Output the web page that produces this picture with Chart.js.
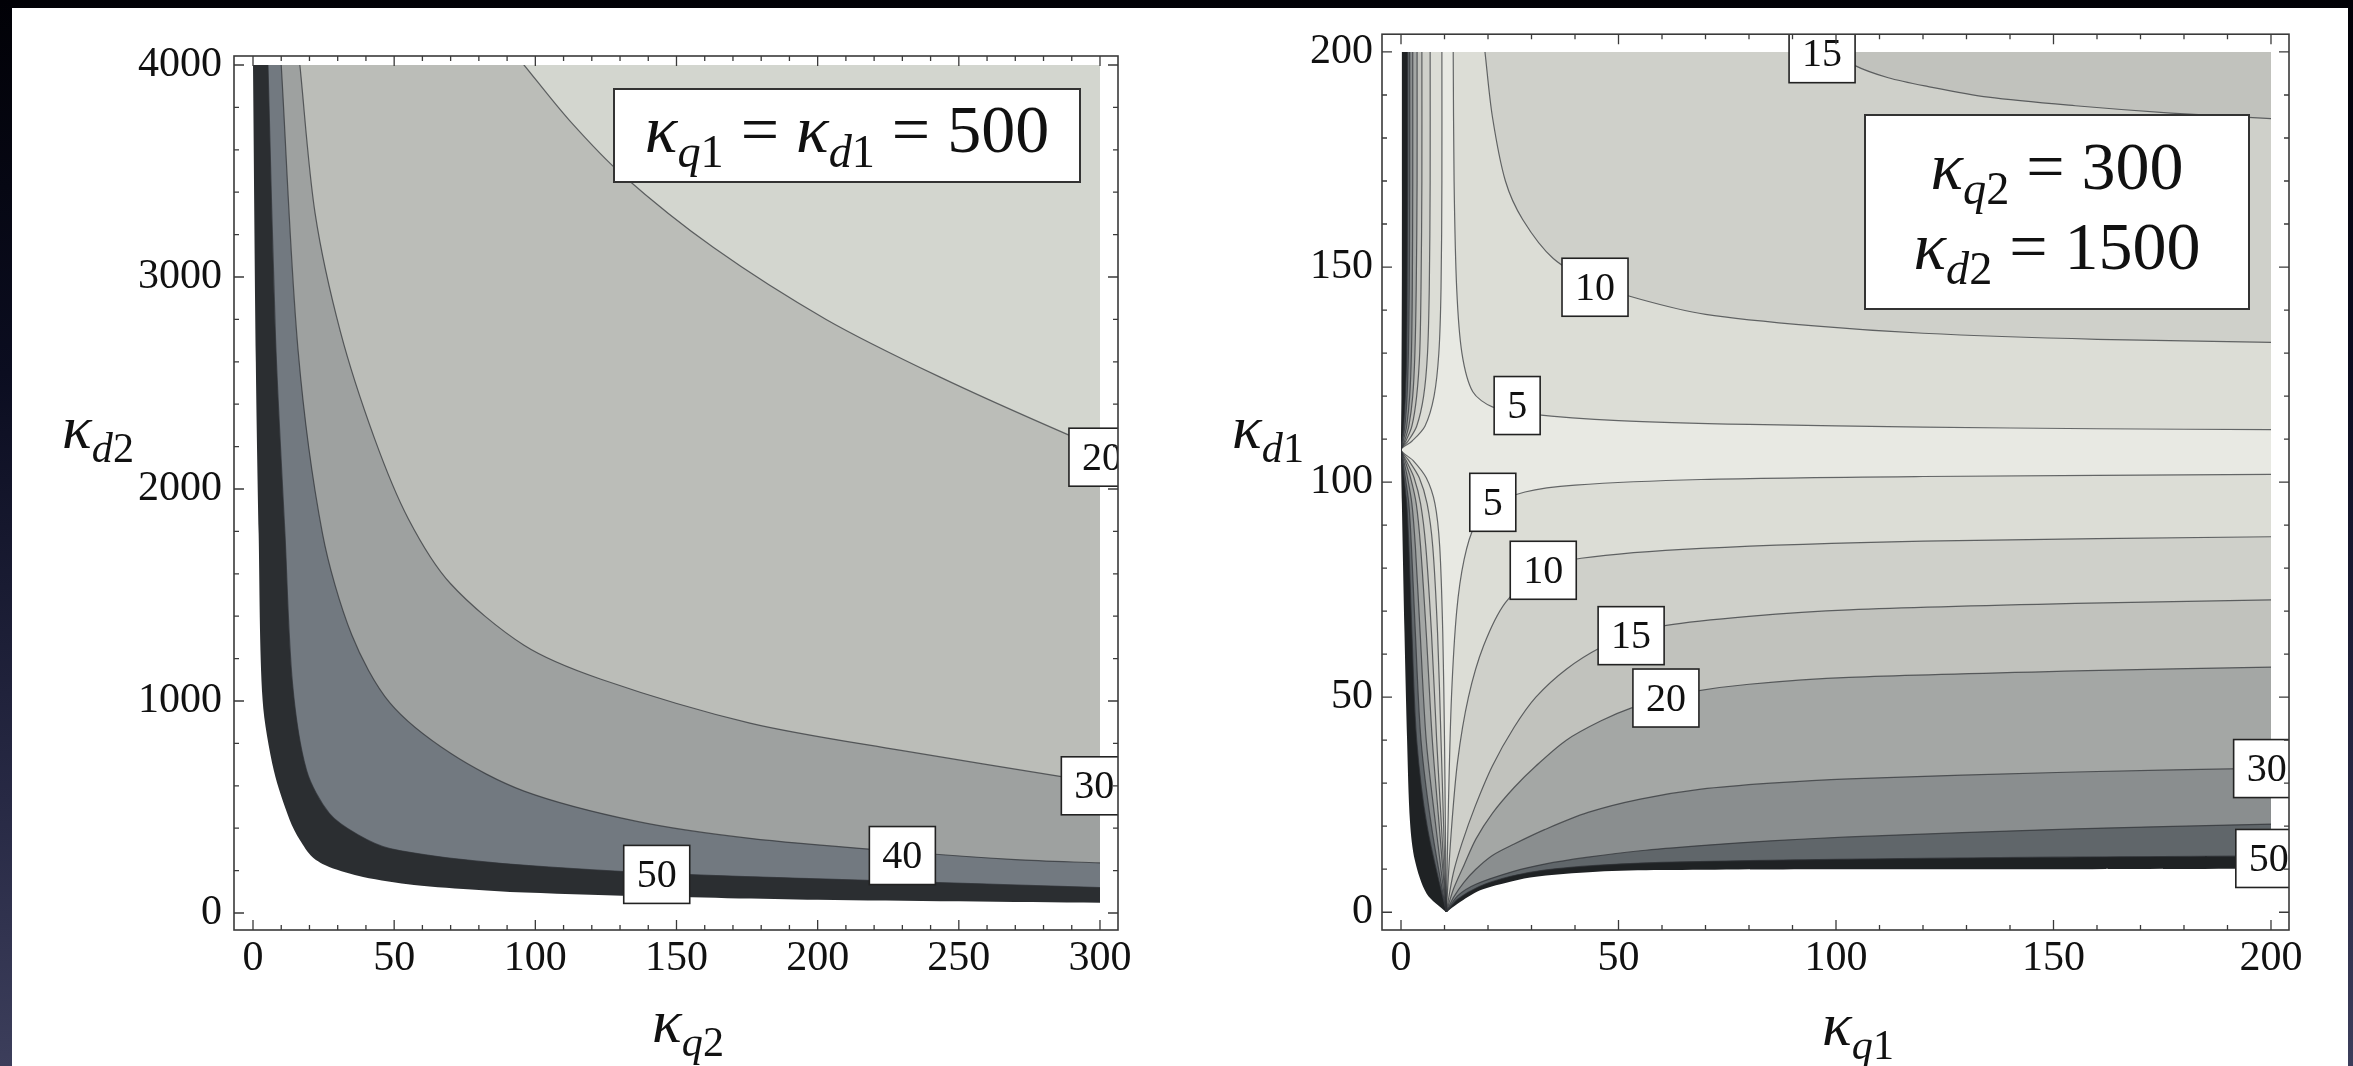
<!DOCTYPE html>
<html>
<head>
<meta charset="utf-8">
<script src="https://cdn.jsdelivr.net/npm/chart.js@4.4.0/dist/chart.umd.min.js"></script>
<style>
    html, body { margin: 0; padding: 0; }
    body {
        width: 2353px; height: 1066px; overflow: hidden; position: relative;
        background: linear-gradient(180deg, #010106 0%, #0b0d20 35%, #272944 75%, #3c3e5b 100%);
    }
    #panel { position: absolute; left: 12px; top: 8px; width: 2336px; height: 1058px; background: #fff; }
    canvas { position: absolute; top: 0; }
    #leftChart { left: 0; }
    #rightChart { left: 1180px; }
</style>
</head>
<body>
<div id="panel"></div>
<canvas id="leftChart" width="1180" height="1066"></canvas>
<canvas id="rightChart" width="1173" height="1066"></canvas>
<script>
// ============================================
// DATA - left panel (kappa_q1 = kappa_d1 = 500), points are [kappa_q2, kappa_d2]
// ============================================
const LEFT_X_LABELS = [0, 50, 100, 150, 200, 250, 300];
const LEFT_Y_LABELS = [0, 1000, 2000, 3000, 4000];

const L_C20 = [[96, 4000], [112, 3740], [131, 3480], [163, 3140], [203, 2800], [243, 2530], [288, 2260], [300, 2200]];
const L_C30 = [[16.6, 4000], [22, 3300], [31, 2740], [43, 2240], [55, 1860], [70, 1553], [96, 1263], [123, 1104], [176, 896], [229, 768], [288, 640], [300, 616]];
const L_C40 = [[10, 4000], [16, 2650], [24.6, 1791], [35, 1311], [48.5, 991], [70, 753], [96, 575], [136, 432], [176, 352], [229, 290], [270, 252], [300, 236]];
const L_C50 = [[5.3, 4000], [8, 2700], [11.3, 1791], [14, 1080], [19, 671], [27, 470], [37, 370], [48.5, 304], [83, 240], [136, 192], [203, 160], [300, 120]];
const L_EDGE = [[0, 4000], [1, 2600], [2, 1791], [3.4, 1005], [7.4, 671], [13, 439], [16.6, 344], [21, 264], [27, 217], [39, 170], [57, 132], [80, 108], [91, 99], [136, 80], [200, 62], [300, 48]];

// contour tags [x, y, text]
const L_TAGS = [[300.7, 2150, '20'], [298, 600, '30'], [230, 271, '40'], [143, 182, '50']];

// ============================================
// DATA - right panel (kappa_q2 = 300, kappa_d2 = 1500), points are [kappa_q1, kappa_d1]
// ============================================
const RIGHT_X_LABELS = [0, 50, 100, 150, 200];
const RIGHT_Y_LABELS = [0, 50, 100, 150, 200];

// upper right branch
const R_UR5 = [[12, 200], [12.2, 170], [12.8, 145], [14, 130], [16.5, 121], [21, 117.5], [30, 115.8], [50, 114.3], [80, 113.4], [120, 112.8], [160, 112.4], [200, 112.2]];
const R_UR10 = [[19.3, 200], [21, 185], [24, 170], [28, 161], [35, 152], [45, 146], [55, 142.5], [70, 139], [95, 136.3], [120, 134.6], [160, 133.2], [200, 132.5]];
const R_UR15 = [[98, 201], [104, 197], [112, 194], [121, 192], [135, 189.5], [155, 187.5], [177, 185.8], [200, 184.5]];

// lower right branch, all start at the cusp
const R_LR5 = [[10.4, 0], [10.9, 25], [11.6, 50], [12.8, 70], [14.5, 82], [17, 90], [21, 94.5], [28.5, 97.7], [40, 99.3], [69, 100.6], [120, 101.3], [200, 101.8]];
const R_LR10 = [[10.4, 0], [11.5, 18], [13, 35], [15.5, 50], [19, 62], [24, 72], [32, 79.5], [41.4, 82.3], [69, 84.6], [120, 86.3], [200, 87.3]];
const R_LR15 = [[10.4, 0], [12, 9], [14, 16], [17, 24.5], [21, 34], [26, 43], [31, 50], [38, 56.5], [46, 61.6], [53, 64.3], [61, 66.7], [80, 68.8], [103, 70.3], [155, 71.8], [200, 72.6]];
const R_LR20 = [[10.4, 0], [12.1, 5.5], [14.5, 11], [17.2, 17], [21, 23], [26, 29], [31, 34], [38, 40], [46, 44.5], [53, 47.5], [61, 49.8], [67, 51.3], [80, 53], [103, 54.6], [155, 56.1], [200, 57]];
const R_LR30 = [[10.4, 0], [12.1, 3.5], [14.5, 7], [17.2, 10], [21, 13.2], [25.9, 15.8], [33, 19.2], [43, 23.2], [55, 26.3], [69, 28.6], [85, 30], [103, 31], [155, 32.6], [200, 33.5]];
const R_LR40 = [[10.4, 0], [13, 3.8], [17.2, 6.5], [25.9, 9.5], [33, 11.2], [43, 12.8], [55, 14.3], [69, 15.5], [85, 16.6], [103, 17.5], [155, 19.4], [200, 20.5]];
const R_LR50 = [[10.4, 0], [13, 3], [18, 6], [25, 8.3], [33, 9.8], [45, 10.9], [60, 11.6], [100, 12.3], [150, 12.8], [200, 13.1]];
const R_LRCUT = [[10.4, 0], [13, 2], [18.2, 5.1], [24, 6.8], [29.7, 8.1], [45, 9.4], [60, 9.8], [100, 10], [150, 10], [200, 10.1]];

// left branch: from the top edge, pinched at the left axis, down to the cusp
const R_LEFT5 = [[9.4, 200], [9.4, 170], [9.2, 145], [8.7, 130], [7.6, 120], [5.5, 113], [2.5, 109.5], [0, 107.5], [2.8, 105], [5.8, 101], [7.8, 95], [8.9, 85], [9.6, 65], [10, 40], [10.2, 20], [10.4, 0]];
const R_LEFT10 = [[6.7, 200], [6.7, 170], [6.5, 145], [6.1, 130], [5.2, 120], [3.6, 113], [1.6, 109.5], [0, 107.5], [1.8, 105], [4.2, 101], [6, 95], [7.3, 85], [8.4, 65], [9.2, 40], [9.8, 20], [10.4, 0]];
const R_LEFT15 = [[4.8, 200], [4.8, 170], [4.6, 145], [4.3, 130], [3.6, 120], [2.5, 113], [1.1, 109.5], [0, 107.5], [1.2, 105], [3, 101], [4.5, 95], [5.7, 85], [7, 65], [8.2, 40], [9.3, 20], [10.4, 0]];
const R_LEFT20 = [[3.7, 200], [3.7, 170], [3.5, 145], [3.2, 130], [2.7, 120], [1.8, 113], [0.8, 109.5], [0, 107.5], [0.9, 105], [2.2, 101], [3.5, 95], [4.5, 85], [5.8, 65], [7.2, 40], [8.8, 20], [10.4, 0]];
const R_LEFT30 = [[2.7, 200], [2.7, 170], [2.6, 145], [2.4, 130], [2, 120], [1.3, 113], [0.5, 109.5], [0, 107.5], [0.6, 105], [1.5, 101], [2.5, 95], [3.3, 85], [4.4, 65], [5.8, 40], [8, 20], [10.4, 0]];
const R_LEFT40 = [[2, 200], [2, 170], [1.9, 145], [1.7, 130], [1.4, 120], [0.9, 113], [0.3, 109.5], [0, 107.5], [0.4, 105], [1, 101], [1.8, 95], [2.4, 85], [3.3, 65], [4.6, 40], [7, 20], [10.4, 0]];
const R_LEFT50 = [[1.5, 200], [1.5, 170], [1.4, 145], [1.3, 130], [1, 120], [0.6, 113], [0.2, 109.5], [0, 107.5], [0.3, 105], [0.7, 101], [1.3, 95], [1.8, 85], [2.5, 65], [3.6, 40], [6, 20], [10.4, 0]];
const R_LEFTCUT = [[0.2, 200], [0.2, 150], [0.1, 120], [0, 107.5], [0.2, 95], [0.8, 65], [1.4, 40], [2.07, 21], [3.2, 12], [5.9, 4.3], [10.4, 0]];

const R_TAGS = [[96.8, 199.6, '15'], [44.6, 145.3, '10'], [26.7, 117.8, '5'], [21.1, 95.3, '5'],
                [32.7, 79.5, '10'], [52.9, 64.3, '15'], [60.9, 49.8, '20'], [199, 33.4, '30'], [199.5, 12.5, '50']];

// ============================================
// STYLE
// ============================================
const SERIF = '"Liberation Serif", "Times New Roman", serif';
const TENSION = 0.3;
const LINE_COLOR = 'rgba(45, 48, 52, 0.7)';
const LEFT_SHADES = ['#d3d6cf', '#bbbdb8', '#9ea1a0', '#727980', '#2b2e31', '#ffffff'];
const RIGHT_SHADES = ['#e8e9e3', '#dcddd6', '#cfd0ca', '#c1c2bd', '#a4a7a5', '#8a8e8f', '#60666a', '#1f2224', '#ffffff'];

// ============================================
// GEOMETRY HELPERS (polygons handed to the filler as 'shape')
// ============================================
function extend(curve) {
    const n = curve.length;
    const [x0, y0] = curve[0], [x1, y1] = curve[1];
    const [xa, ya] = curve[n - 1], [xb, yb] = curve[n - 2];
    return [[2 * x0 - x1, 2 * y0 - y1], ...curve, [2 * xa - xb, 2 * ya - yb]];
}

function toXY(points) {
    return points.map(([x, y]) => ({x, y}));
}

function region(points, color) {
    return {
        data: toXY(points), showLine: true, fill: 'shape', backgroundColor: color,
        borderWidth: 0, pointRadius: 0, tension: TENSION
    };
}

function contour(curve) {
    return {
        data: toXY(extend(curve)), showLine: true, fill: false, borderColor: LINE_COLOR,
        borderWidth: 1.2, pointRadius: 0, tension: TENSION
    };
}

// below-left of a curve that runs from the top edge to the right edge
function belowLeft(curve, b) {
    const e = extend(curve);
    const first = e[0], last = e[e.length - 1];
    return [[b.xlo, first[1]], ...e, [last[0], b.ylo], [b.xlo, b.ylo]];
}

// above-right of a curve from the top edge to the right edge
function aboveRight(curve, b) {
    const e = extend(curve);
    const first = e[0], last = e[e.length - 1];
    return [...e, [b.xhi, last[1]], [b.xhi, b.yhi], [first[0], b.yhi]];
}

// below-right of a curve from the bottom edge to the right edge
function belowRight(curve, b) {
    const e = extend(curve);
    const first = e[0], last = e[e.length - 1];
    return [[first[0], b.ylo], ...e, [b.xhi, last[1]], [b.xhi, b.ylo]];
}

// left of a curve from the top edge to the bottom edge
function leftOf(curve, b) {
    const e = extend(curve);
    const first = e[0], last = e[e.length - 1];
    return [[b.xlo, b.yhi], [first[0], b.yhi], ...e, [last[0], b.ylo], [b.xlo, b.ylo]];
}

function withOrder(list) {
    return list.map((ds, i) => Object.assign(ds, {order: list.length - i}));
}

// ============================================
// DRAWING HELPERS
// ============================================
function drawRuns(ctx, runs, cx, baseline, size) {
    const fontFor = (st) => {
        const s = st[0] === 's' ? size * 0.68 : size;
        return `${st.endsWith('i') ? 'italic ' : ''}${s}px ${SERIF}`;
    };
    let total = 0;
    const widths = runs.map(([t, st]) => {
        ctx.font = fontFor(st);
        const w = ctx.measureText(t).width;
        total += w;
        return w;
    });
    let x = cx - total / 2;
    ctx.textAlign = 'left';
    ctx.textBaseline = 'alphabetic';
    ctx.fillStyle = '#111';
    runs.forEach(([t, st], i) => {
        ctx.font = fontFor(st);
        ctx.fillText(t, x, baseline + (st[0] === 's' ? size * 0.22 : 0));
        x += widths[i];
    });
}

function drawTag(ctx, px, py, text) {
    const w = text.length > 1 ? 66 : 46, h = 58;
    ctx.fillStyle = '#fff';
    ctx.fillRect(px - w / 2, py - h / 2, w, h);
    ctx.strokeStyle = '#222';
    ctx.lineWidth = 1.6;
    ctx.strokeRect(px - w / 2, py - h / 2, w, h);
    ctx.fillStyle = '#111';
    ctx.font = `40px ${SERIF}`;
    ctx.textAlign = 'center';
    ctx.textBaseline = 'middle';
    ctx.fillText(text, px, py + 2);
}

function drawFrame(chart, opts) {
    const {ctx, chartArea: a} = chart;
    const xs = chart.scales.x, ys = chart.scales.y;
    ctx.save();
    ctx.strokeStyle = '#3a3a3a';
    ctx.lineWidth = 1.6;
    ctx.strokeRect(a.left, a.top, a.right - a.left, a.bottom - a.top);
    ctx.lineWidth = 1.3;
    ctx.beginPath();
    xs.ticks.forEach(tk => {
        const px = xs.getPixelForValue(tk.value);
        const len = tk.value % opts.xMajor === 0 ? 10 : 5;
        ctx.moveTo(px, a.bottom); ctx.lineTo(px, a.bottom - len);
        ctx.moveTo(px, a.top); ctx.lineTo(px, a.top + len);
    });
    ys.ticks.forEach(tk => {
        const py = ys.getPixelForValue(tk.value);
        const len = tk.value % opts.yMajor === 0 ? 10 : 5;
        ctx.moveTo(a.left, py); ctx.lineTo(a.left + len, py);
        ctx.moveTo(a.right, py); ctx.lineTo(a.right - len, py);
    });
    ctx.stroke();
    ctx.restore();
}

// ============================================
// PLUGIN: clip to the data range, frame, inward ticks, tags, legend box, titles
// ============================================
const decorPlugin = {
    id: 'decor',
    beforeDatasetsDraw(chart, args, opts) {
        const {ctx} = chart;
        const xs = chart.scales.x, ys = chart.scales.y;
        const l = Math.round(xs.getPixelForValue(opts.xRange[0]));
        const r = Math.round(xs.getPixelForValue(opts.xRange[1]));
        const t = Math.round(ys.getPixelForValue(opts.yRange[1]));
        const b = Math.round(ys.getPixelForValue(opts.yRange[0]));
        ctx.save();
        ctx.beginPath();
        ctx.rect(l, t, r - l, b - t);
        ctx.clip();
    },
    afterDatasetsDraw(chart, args, opts) {
        const {ctx, chartArea: a} = chart;
        ctx.restore();

        ctx.save();
        ctx.beginPath();
        ctx.rect(a.left, a.top, a.right - a.left, a.bottom - a.top);
        ctx.clip();
        opts.tags.forEach(([x, y, t]) => {
            drawTag(ctx, chart.scales.x.getPixelForValue(x), chart.scales.y.getPixelForValue(y), t);
        });
        ctx.restore();

        drawFrame(chart, opts);

        const lg = opts.legend;
        ctx.save();
        ctx.fillStyle = '#fff';
        ctx.fillRect(lg.x, lg.y, lg.w, lg.h);
        ctx.strokeStyle = '#333';
        ctx.lineWidth = 2;
        ctx.strokeRect(lg.x, lg.y, lg.w, lg.h);
        lg.lines.forEach((runs, i) => drawRuns(ctx, runs, lg.x + lg.w / 2, lg.baselines[i], lg.size));
        drawRuns(ctx, opts.xTitle.runs, opts.xTitle.cx, opts.xTitle.base, 62);
        drawRuns(ctx, opts.yTitle.runs, opts.yTitle.cx, opts.yTitle.base, 62);
        ctx.restore();
    }
};

// ============================================
// CHART FACTORY
// ============================================
function buildChart(canvasId, cfg) {
    const tickFont = {family: SERIF, size: 42};
    return new Chart(document.getElementById(canvasId), {
        type: 'scatter',
        data: {datasets: cfg.datasets},
        options: {
            responsive: false,
            devicePixelRatio: 1,
            animation: false,
            events: [],
            layout: {padding: {left: 0, right: cfg.padRight, top: cfg.padTop, bottom: 0}},
            elements: {line: {capBezierPoints: false}},
            plugins: {
                legend: {display: false},
                tooltip: {enabled: false},
                decor: cfg.decor
            },
            scales: {
                x: {
                    type: 'linear', min: cfg.x.min, max: cfg.x.max,
                    grid: {display: false, drawTicks: false}, border: {display: false},
                    ticks: {
                        stepSize: cfg.x.step, includeBounds: false, autoSkip: false, maxRotation: 0,
                        padding: 4, color: '#111', font: tickFont,
                        callback: v => cfg.x.labels.includes(v) ? String(v) : ''
                    },
                    afterFit: s => { s.height = cfg.xAxisHeight; }
                },
                y: {
                    type: 'linear', min: cfg.y.min, max: cfg.y.max,
                    grid: {display: false, drawTicks: false}, border: {display: false},
                    ticks: {
                        stepSize: cfg.y.step, includeBounds: false, autoSkip: false,
                        padding: cfg.yPad, color: '#111', font: tickFont,
                        callback: v => cfg.y.labels.includes(v) ? String(v) : ''
                    },
                    afterFit: s => { s.width = cfg.yAxisWidth; }
                }
            }
        },
        plugins: [decorPlugin]
    });
}

// ============================================
// LEFT PANEL
// ============================================
const lb = {xlo: -60, xhi: 400, ylo: -800, yhi: 5000};
const leftDatasets = withOrder([
    region([[lb.xlo, lb.yhi], [lb.xhi, lb.yhi], [lb.xhi, lb.ylo], [lb.xlo, lb.ylo]], LEFT_SHADES[0]),
    region(belowLeft(L_C20, lb), LEFT_SHADES[1]),
    region(belowLeft(L_C30, lb), LEFT_SHADES[2]),
    region(belowLeft(L_C40, lb), LEFT_SHADES[3]),
    region(belowLeft(L_C50, lb), LEFT_SHADES[4]),
    region(belowLeft(L_EDGE, lb), LEFT_SHADES[5]),
    contour(L_C20), contour(L_C30), contour(L_C40), contour(L_C50)
]);

buildChart('leftChart', {
    datasets: leftDatasets,
    padTop: 56, padRight: 62, xAxisHeight: 136, yAxisWidth: 234, yPad: 12,
    x: {min: -6.73, max: 306.38, step: 10, labels: LEFT_X_LABELS},
    y: {min: -80.2, max: 4042.5, step: 200, labels: LEFT_Y_LABELS},
    decor: {
        xRange: [0, 300], yRange: [0, 4000], xMajor: 50, yMajor: 1000, tags: L_TAGS,
        legend: {
            x: 614, y: 89, w: 466, h: 93, size: 68, baselines: [152],
            lines: [[['κ', 'i'], ['q', 'si'], ['1', 'sr'], [' = ', 'r'], ['κ', 'i'], ['d', 'si'], ['1', 'sr'], [' = 500', 'r']]]
        },
        xTitle: {cx: 688, base: 1042, runs: [['κ', 'i'], ['q', 'si'], ['2', 'sr']]},
        yTitle: {cx: 98, base: 448, runs: [['κ', 'i'], ['d', 'si'], ['2', 'sr']]}
    }
});

// ============================================
// RIGHT PANEL
// ============================================
const rb = {xlo: -30, xhi: 240, ylo: -30, yhi: 240};
const rightDatasets = withOrder([
    region([[rb.xlo, rb.yhi], [rb.xhi, rb.yhi], [rb.xhi, rb.ylo], [rb.xlo, rb.ylo]], RIGHT_SHADES[0]),
    region(aboveRight(R_UR5, rb), RIGHT_SHADES[1]),
    region(belowRight(R_LR5, rb), RIGHT_SHADES[1]),
    region(leftOf(R_LEFT5, rb), RIGHT_SHADES[1]),
    region(aboveRight(R_UR10, rb), RIGHT_SHADES[2]),
    region(belowRight(R_LR10, rb), RIGHT_SHADES[2]),
    region(leftOf(R_LEFT10, rb), RIGHT_SHADES[2]),
    region(aboveRight(R_UR15, rb), RIGHT_SHADES[3]),
    region(belowRight(R_LR15, rb), RIGHT_SHADES[3]),
    region(leftOf(R_LEFT15, rb), RIGHT_SHADES[3]),
    region(belowRight(R_LR20, rb), RIGHT_SHADES[4]),
    region(leftOf(R_LEFT20, rb), RIGHT_SHADES[4]),
    region(belowRight(R_LR30, rb), RIGHT_SHADES[5]),
    region(leftOf(R_LEFT30, rb), RIGHT_SHADES[5]),
    region(belowRight(R_LR40, rb), RIGHT_SHADES[6]),
    region(leftOf(R_LEFT40, rb), RIGHT_SHADES[6]),
    region(belowRight(R_LR50, rb), RIGHT_SHADES[7]),
    region(leftOf(R_LEFT50, rb), RIGHT_SHADES[7]),
    region(belowRight(R_LRCUT, rb), RIGHT_SHADES[8]),
    region(leftOf(R_LEFTCUT, rb), RIGHT_SHADES[8]),
    contour(R_UR5), contour(R_UR10), contour(R_UR15),
    contour(R_LR5), contour(R_LR10), contour(R_LR15), contour(R_LR20), contour(R_LR30), contour(R_LR40), contour(R_LR50),
    contour(R_LEFT5), contour(R_LEFT10), contour(R_LEFT15), contour(R_LEFT20), contour(R_LEFT30), contour(R_LEFT40), contour(R_LEFT50)
]);

buildChart('rightChart', {
    datasets: rightDatasets,
    padTop: 23, padRight: 64, xAxisHeight: 136, yAxisWidth: 202, yPad: 9,
    x: {min: -4.37, max: 204.14, step: 10, labels: RIGHT_X_LABELS},
    y: {min: -4.13, max: 204.13, step: 10, labels: RIGHT_Y_LABELS},
    decor: {
        xRange: [0, 200], yRange: [0, 200], xMajor: 50, yMajor: 50, tags: R_TAGS,
        legend: {
            x: 685, y: 115, w: 384, h: 194, size: 68, baselines: [189, 269],
            lines: [
                [['κ', 'i'], ['q', 'si'], ['2', 'sr'], [' = 300', 'r']],
                [['κ', 'i'], ['d', 'si'], ['2', 'sr'], [' = 1500', 'r']]
            ]
        },
        xTitle: {cx: 678, base: 1045, runs: [['κ', 'i'], ['q', 'si'], ['1', 'sr']]},
        yTitle: {cx: 88, base: 448, runs: [['κ', 'i'], ['d', 'si'], ['1', 'sr']]}
    }
});
</script>
</body>
</html>
